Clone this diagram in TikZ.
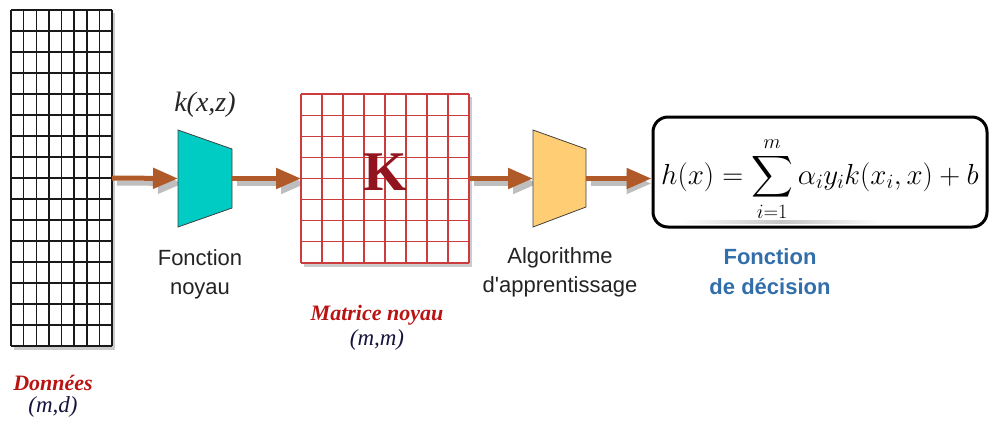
\RequirePackage{fix-cm}
\documentclass[tikz,border=0pt]{standalone}
\usepackage{fontspec}
\setmainfont{Liberation Serif}
\setsansfont{Liberation Sans}
\newfontfamily\sfplain{Liberation Sans}[Ligatures=TeXOff]
\DeclareFontFamily{OMX}{cmex}{}
\DeclareFontShape{OMX}{cmex}{m}{n}{<->cmex10}{}
\usetikzlibrary{arrows.meta}
\definecolor{arrbrown}{RGB}{175,90,40}
\definecolor{shgray}{RGB}{190,190,190}
\definecolor{cyanfill}{RGB}{0,204,196}
\definecolor{orangefill}{RGB}{255,205,115}
\definecolor{gridred}{RGB}{205,60,60}
\definecolor{kred}{RGB}{145,20,30}
\definecolor{lblred}{RGB}{185,20,20}
\definecolor{navy}{RGB}{20,20,60}
\definecolor{decblue}{RGB}{50,110,170}
\definecolor{txtgray}{RGB}{35,35,35}
\tikzset{
  anchorbox/.style={inner sep=0pt, outer sep=0pt},
  arr/.style={line width=5pt, draw=arrbrown, -{Triangle[length=25pt,width=20pt]}},
  arrsh/.style={line width=5pt, draw=shgray, -{Triangle[length=25pt,width=20pt]}},
  dgrid/.style={line width=1.5pt, draw=black!90},
  rgrid/.style={line width=1.1pt, draw=gridred},
  trap/.style={draw=black!75, line width=0.8pt},
  sflabel/.style={font=\sfplain\fontsize{22}{29}\selectfont, text=txtgray, align=center},
  redlabel/.style={font=\bfseries\itshape\fontsize{22}{24}\selectfont, text=lblred},
  dimlabel/.style={font=\itshape\fontsize{23}{25}\selectfont, text=navy},
}
\begin{document}
\begin{tikzpicture}[x=1pt,y=-1pt]
\useasboundingbox (0,0) rectangle (990,421);
% anchor nodes
\node[anchorbox, minimum width=101pt, minimum height=336pt] (data) at (61.5,178) {};
\node[anchorbox, minimum width=54pt, minimum height=97pt] (kern) at (205,178.5) {};
\node[anchorbox, minimum width=168pt, minimum height=169pt] (mat) at (385,178.5) {};
\node[anchorbox, minimum width=53pt, minimum height=97pt] (alg) at (559.5,178.5) {};
% arrow shadows
\draw[arrsh] ([shift={(5,5)}]data.east) -- ([shift={(5,5)}]kern.west);
\draw[arrsh] ([shift={(5,5)}]kern.east) -- ([shift={(5,5)}]mat.west);
\draw[arrsh] ([shift={(5,5)}]mat.east) -- ([shift={(5,5)}]alg.west);
% data grid
\fill[shgray!80] (14,13) rectangle (115,350);
\fill[white] (11,10) rectangle (112,346);
\foreach \i in {0,...,8} \draw[dgrid] ({11+\i*12.625},10) -- ({11+\i*12.625},346);
\foreach \j in {0,...,16} \draw[dgrid] (11,{10+\j*21}) -- (112,{10+\j*21});
% kernel trapezoid
\filldraw[trap, fill=cyanfill] (178,130) -- (232,149) -- (232,208) -- (178,227) -- cycle;
% matrix
\fill[shgray!80] (304,97) rectangle (472,267);
\fill[white] (301,94) rectangle (469,263);
\foreach \i in {0,...,8} \draw[rgrid] ({301+\i*21},94) -- ({301+\i*21},263);
\foreach \j in {0,...,8} \draw[rgrid] (301,{94+\j*21.125}) -- (469,{94+\j*21.125});
\node[font=\bfseries\fontsize{56}{60}\selectfont, text=kred] (K) at (385,172) {K};
% algorithm trapezoid
\filldraw[trap, fill=orangefill] (533,130) -- (586,149) -- (586,207) -- (533,227) -- cycle;
% decision box with formula
\shade[left color=white, right color=white, middle color=gray!45] (680,220.5) rectangle (883,223.5);
\node[draw=black, line width=3pt, rounded corners=15pt, minimum width=334pt, minimum height=110pt, inner sep=0pt, font=\fontsize{29}{32}\selectfont] (dec) at (820,172) {\raisebox{-7pt}[\height][\depth]{$\displaystyle h(x)=\sum_{i=1}^{m}\alpha_i y_i k(x_i,x)+b$}\hspace{4pt}};
% arrow shadow to box
\draw[arrsh] ([shift={(5,5)}]alg.east) -- ([shift={(0,5)}]alg.east -| dec.west);
% arrows
\draw[arr] (data.east) -- (kern.west);
\draw[arr] (kern.east) -- (mat.west);
\draw[arr] (mat.east) -- (alg.west);
\draw[arr] (alg.east) -- (alg.east -| dec.west);
% labels
\node[font=\itshape\fontsize{28}{30}\selectfont, text=black!85] (kxz) at (205,105) {k(x,z)};
\node[sflabel] (lblk) at (200,274) {Fonction\\noyau};
\node[redlabel] (don) at (53,383) {Données};
\node[dimlabel] (md) at (53,407) {(m,d)};
\node[redlabel] (matlbl) at (377,315) {Matrice noyau};
\node[dimlabel] (mm) at (377,340) {(m,m)};
\node[sflabel] (alglbl) at (560,272.5) {Algorithme\\d'apprentissage};
\node[font=\sfplain\bfseries\fontsize{22}{30}\selectfont, text=decblue, align=center] (declbl) at (770,272) {Fonction\\de décision};
\end{tikzpicture}
\end{document}
